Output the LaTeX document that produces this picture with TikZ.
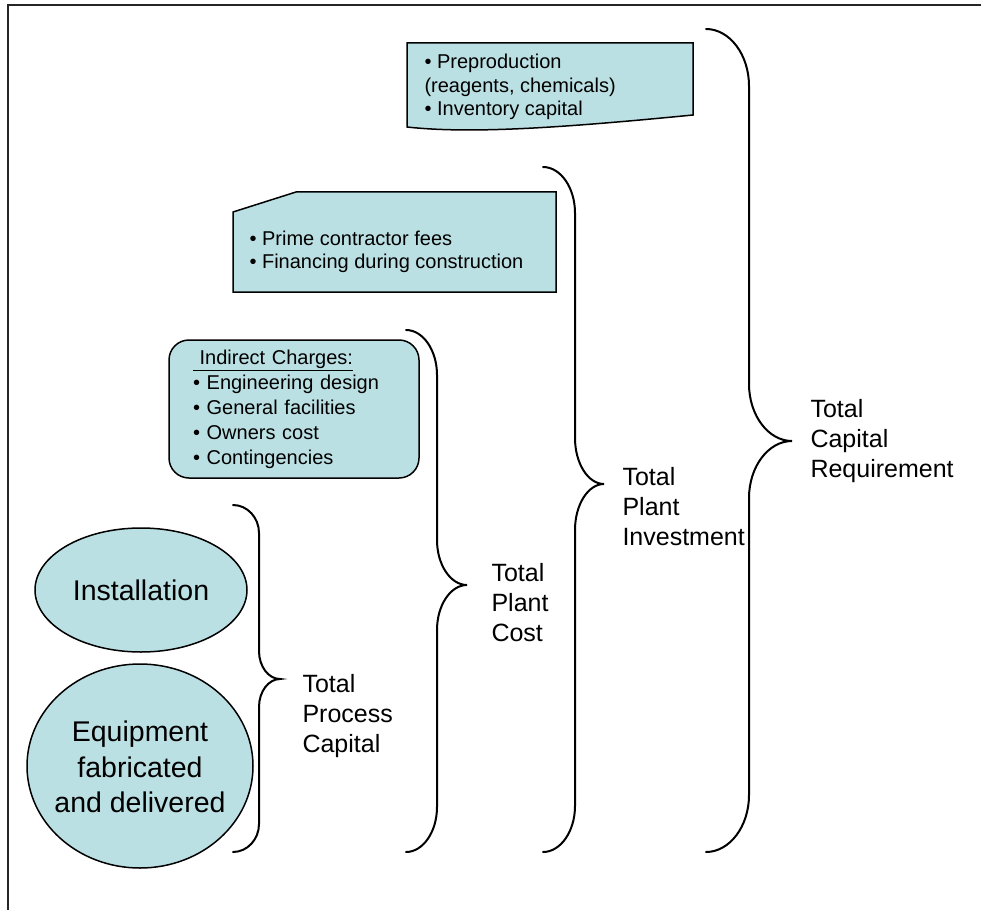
\documentclass[tikz,border=0pt]{standalone}
\usepackage{fontspec}
\setmainfont{Liberation Sans}
\usetikzlibrary{shapes.geometric,positioning}
\definecolor{boxfill}{RGB}{187,224,227}
% brace: name of tip, left x, spine x, tip x, top y, tip y, bottom y, bend
\newcommand{\costbrace}[8]{%
  \draw[brace] (#2,#5) .. controls ({#2+0.55*(#3-#2)},#5) and (#3,{#5+0.45*#8}) .. (#3,{#5+#8})
    -- (#3,{#6-#8}) .. controls (#3,{#6-0.45*#8}) and ({#4-0.55*(#4-#3)},#6) .. (#4,#6)
    coordinate (#1)
    .. controls ({#4-0.55*(#4-#3)},#6) and (#3,{#6+0.45*#8}) .. (#3,{#6+#8})
    -- (#3,{#7-#8}) .. controls (#3,{#7-0.45*#8}) and ({#2+0.55*(#3-#2)},#7) .. (#2,#7);}

\begin{document}
\begin{tikzpicture}[x=1pt,y=-1pt,
    box/.style={draw,fill=boxfill,line width=1.5pt},
    brace/.style={line width=2pt,line cap=round},
    bullets/.style={anchor=west,align=left,font=\fontsize{20}{23.5}\selectfont},
    total/.style={anchor=west,align=left,font=\fontsize{25}{30}\selectfont},
    blob/.style={align=center,font=\fontsize{28.5}{35.5}\selectfont}]
  \useasboundingbox (0,0) rectangle (981,909);
  % ---------------- frame ----------------------------------------------
  \draw[line width=2.5pt,black!85] (8,915) -- (8,5) -- (990,5);
  % ---------------- boxes of cost items --------------------------------
  \draw[box] (407,43) -- (693,43) -- (693,115)
      .. controls (560,128) and (470,134) .. (407,127) -- cycle;
  \node[bullets] (prepro) at (421,87)
      {\textbullet\ Preproduction\\(reagents, chemicals)\\\textbullet\ Inventory capital};
  \draw[box] (233,212) -- (296,192) -- (556,192) -- (556,292) -- (233,292) -- cycle;
  \node[bullets] (prime) at (246,252)
      {\textbullet\ Prime contractor fees\\\textbullet\ Financing during construction};
  \node[box,rounded corners=20pt,text width=202pt,inner xsep=24pt,minimum height=138pt,
        align=left,font=\fontsize{20}{25}\selectfont] (indirect) at (294,409)
      {\underline{\hbox{\ Indirect Charges:}}\\\textbullet\ Engineering design\\
       \textbullet\ General facilities\\\textbullet\ Owners cost\\\textbullet\ Contingencies};
  % ellipses drawn directly, so the text cannot widen them
  \draw[box] (141,590) ellipse (106 and 62);
  \node[blob] (inst) at (141,590) {Installation};
  \draw[box] (140,766) ellipse (113 and 102);
  \node[blob] (equip) at (140,767) {Equipment\\fabricated\\and delivered};
  % ---------------- braces and totals ----------------------------------
  \costbrace{tpc}{233}{259}{280}{505}{679}{852}{28}
  \costbrace{tplc}{406}{437}{467}{330}{585}{852}{45}
  \costbrace{tpi}{543}{575}{604}{167}{484}{852}{46}
  \costbrace{tcr}{706}{749}{792}{29}{441}{852}{57}
  \node[total] (lpc) at (299,716) {Total\\Process\\Capital};
  \node[total] (lplc) at (488,603) {Total\\Plant\\Cost};
  \node[total] (lpi) at (619,507) {Total\\Plant\\Investment};
  \node[total] (lcr) at (807,441) {Total\\Capital\\Requirement};
\end{tikzpicture}
\end{document}
